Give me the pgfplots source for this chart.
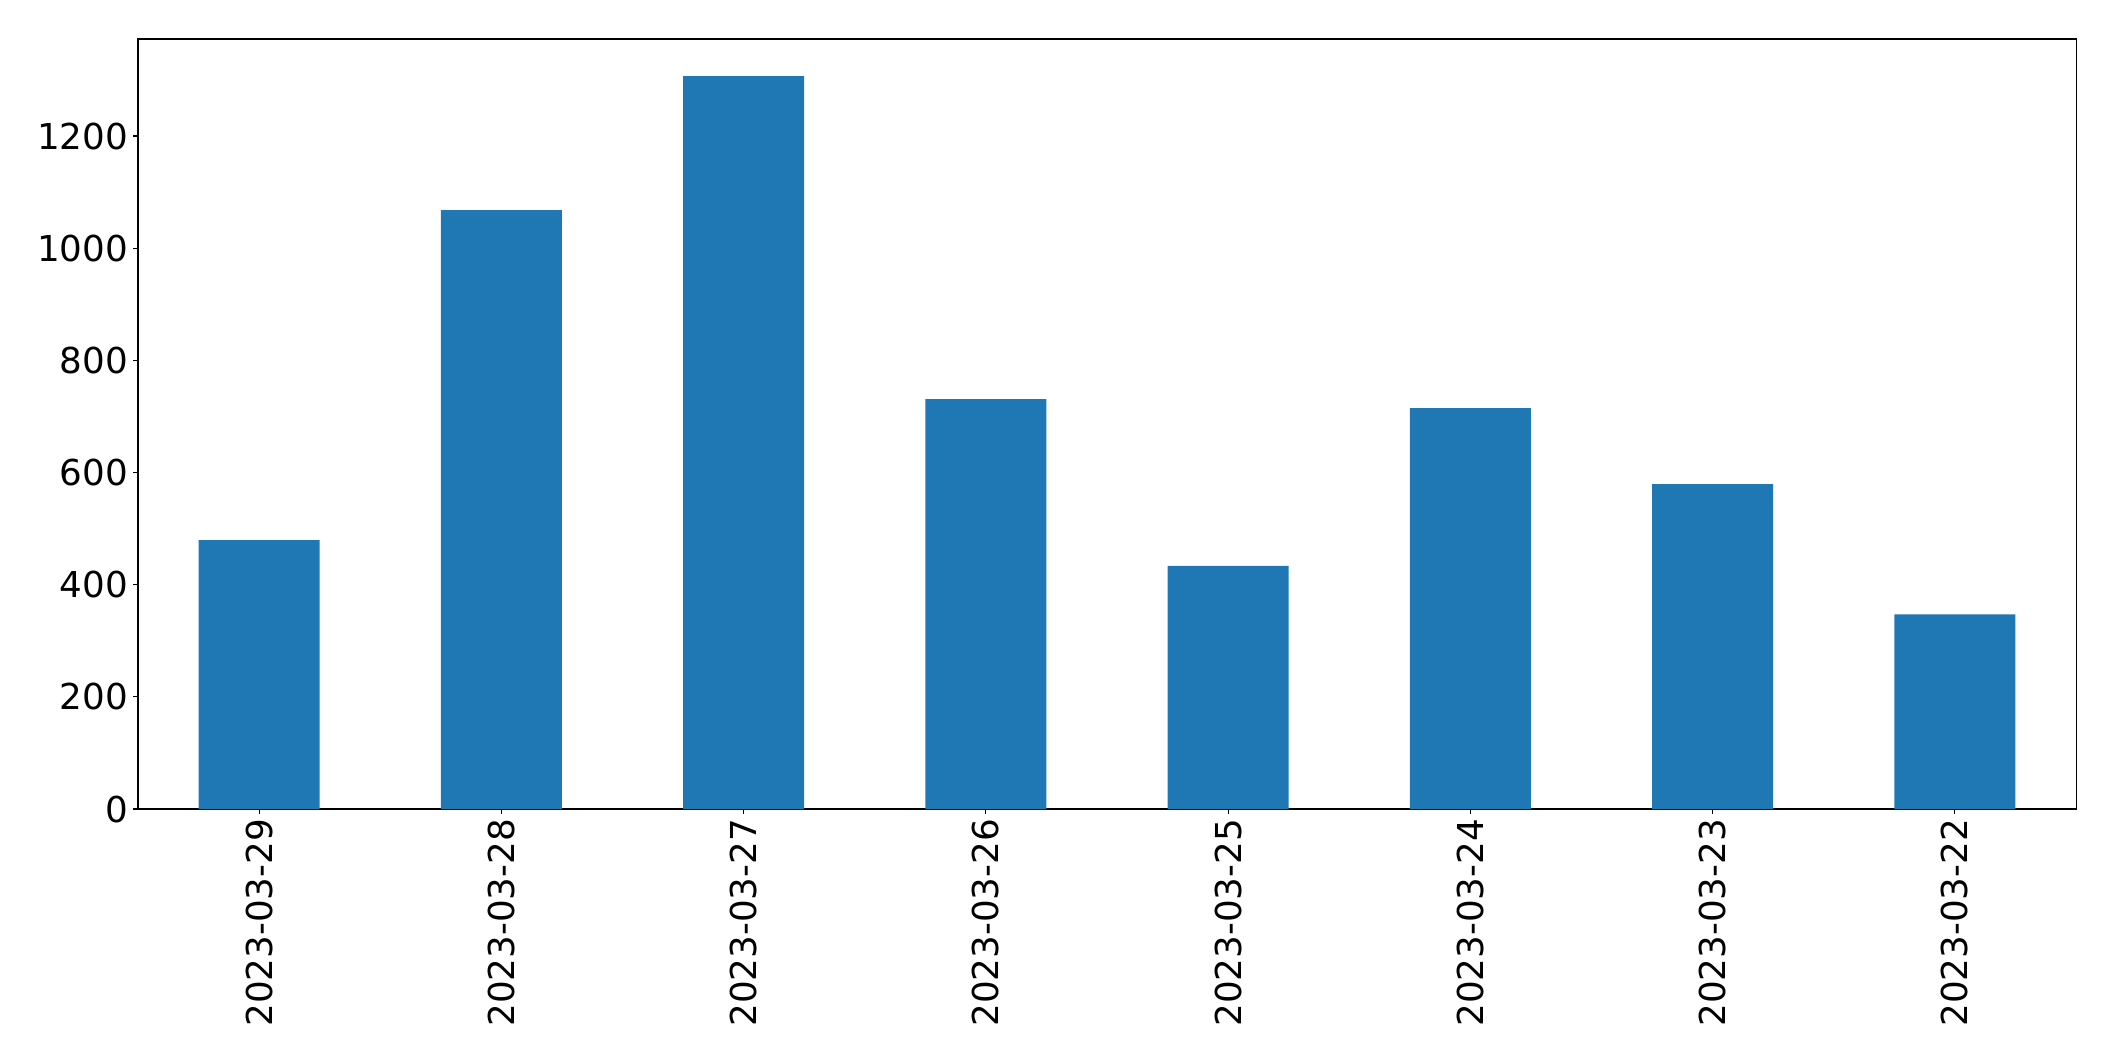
\documentclass[border=0pt]{standalone}
\usepackage{fontspec}
\setmainfont{DejaVu Sans}
\usepackage{pgfplots}
\pgfplotsset{compat=1.18}
\definecolor{tabblue}{HTML}{1F77B4}
\begin{document}
\begin{tikzpicture}
\begin{axis}[
  at={(0pt,0pt)}, anchor=south west, scale only axis,
  width=1395.4pt, height=554.4pt,
  xmin=-0.5, xmax=7.5, ymin=0, ymax=1373,
  axis line style={line width=0.8pt},
  tick align=outside, tick pos=left,
  major tick length=3.5pt,
  every tick/.style={black, line width=0.8pt},
  xtick=data,
  xticklabels={2023-03-29,2023-03-28,2023-03-27,2023-03-26,2023-03-25,2023-03-24,2023-03-23,2023-03-22},
  ytick={0,200,400,600,800,1000,1200},
  /pgf/number format/assume math mode=true,
  /pgf/number format/1000 sep={},
  tick label style={font=\fontsize{25.7}{30}\selectfont},
  xticklabel style={rotate=90, anchor=east, inner sep=3.5pt},
  yticklabel style={inner sep=3.5pt},
  ybar, bar width=0.5,
]
\addplot[fill=tabblue, draw=none] coordinates {
  (0,479.5) (1,1068) (2,1307) (3,731) (4,433.5) (5,715) (6,579.5) (7,347)
};
\end{axis}
\path (-99.36pt,-181.44pt) rectangle (1423.44pt,582.48pt);
\end{tikzpicture}
\end{document}
